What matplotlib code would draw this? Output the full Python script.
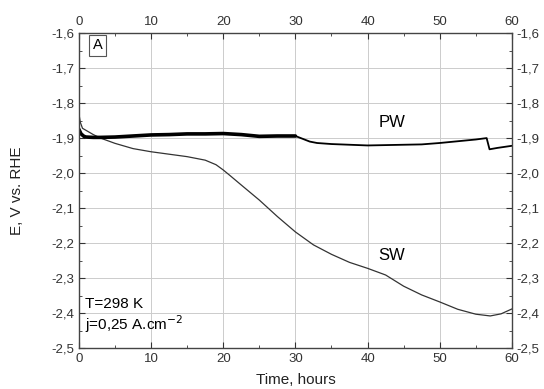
import numpy as np
import matplotlib.pyplot as plt
from matplotlib.ticker import MultipleLocator, FuncFormatter

plt.rcParams['font.family'] = ['Liberation Sans', 'DejaVu Sans']

# PW curve (thick part up to ~30 h, then thinner)
pw_t = [0, 0.3, 0.7, 1, 2, 3, 5, 7.5, 10, 12.5, 15, 17.5, 20, 22.5, 25, 27.5, 30]
pw_e = [-1.875, -1.888, -1.895, -1.897, -1.898, -1.898, -1.897, -1.894, -1.891, -1.890,
        -1.888, -1.888, -1.887, -1.890, -1.895, -1.894, -1.894]
pw2_t = [30, 31, 32, 33, 35, 37.5, 40, 42.5, 45, 47.5, 50, 52.5, 55, 56.5, 56.9, 58, 60]
pw2_e = [-1.894, -1.902, -1.910, -1.914, -1.917, -1.919, -1.921, -1.920, -1.919, -1.918,
         -1.914, -1.909, -1.904, -1.900, -1.932, -1.928, -1.922]

# SW curve
sw_t = [0, 0.2, 0.5, 1, 2, 3, 5, 7.5, 10, 12.5, 15, 17.5, 19, 20, 21, 22.5, 25, 27.5, 30,
        32.5, 35, 37.5, 40, 42.5, 45, 47.5, 50, 52.5, 55, 57, 58.5, 60]
sw_e = [-1.83, -1.855, -1.872, -1.878, -1.890, -1.900, -1.915, -1.930, -1.939, -1.946,
        -1.953, -1.963, -1.976, -1.991, -2.008, -2.034, -2.077, -2.124, -2.168, -2.205,
        -2.232, -2.255, -2.272, -2.291, -2.323, -2.348, -2.368, -2.389, -2.403, -2.408,
        -2.402, -2.388]

fig = plt.figure(figsize=(5.44, 3.89), dpi=100)
ax = fig.add_axes([0.145, 0.105, 0.796, 0.810])

ax.plot(sw_t, sw_e, color='#333333', lw=0.9)
ax.plot(pw2_t, pw2_e, color='black', lw=1.3, solid_capstyle='round')
ax.plot(pw_t, pw_e, color='black', lw=2.6, solid_capstyle='round')

ax.set_xlim(0, 60)
ax.set_ylim(-2.5, -1.6)
ax.xaxis.set_major_locator(MultipleLocator(10))
ax.xaxis.set_minor_locator(MultipleLocator(5))
ax.yaxis.set_major_locator(MultipleLocator(0.1))
ax.yaxis.set_minor_locator(MultipleLocator(0.05))
ax.yaxis.set_major_formatter(FuncFormatter(lambda v, p: f"{v:.1f}".replace('.', ',')))
ax.grid(True, which='major', color='#cccccc', lw=0.7)
ax.set_axisbelow(True)
ax.tick_params(which='both', direction='in', top=True, right=True,
               labeltop=True, labelright=True, labelsize=9.5, colors='#333333')
ax.tick_params(which='major', length=4)
ax.tick_params(which='minor', length=2.5)
for s in ax.spines.values():
    s.set_color('#444444')
    s.set_linewidth(1.0)

ax.set_xlabel('Time, hours', fontsize=11, color='#222222')
ax.set_ylabel('E, V vs. RHE', fontsize=11, color='#222222')
ax.xaxis.set_label_coords(0.5, -0.08)
ax.yaxis.set_label_coords(-0.143, 0.5)
ax.yaxis.label.set_va('center')

ax.text(1.9, -1.635, 'A', fontsize=10.5, ha='left', va='center',
        bbox=dict(boxstyle='square,pad=0.25', fc='white', ec='#555555', lw=0.8))
ax.text(43.4, -1.856, 'PW', fontsize=12, ha='center', va='center')
ax.text(43.4, -2.234, 'SW', fontsize=12, ha='center', va='center')
ax.text(0.9, -2.373, 'T=298 K', fontsize=11, ha='left', va='center')
ax.text(0.9, -2.432, 'j=0,25 A.cm$^{-2}$', fontsize=11, ha='left', va='center')

fig.savefig('out.png', dpi=100)
